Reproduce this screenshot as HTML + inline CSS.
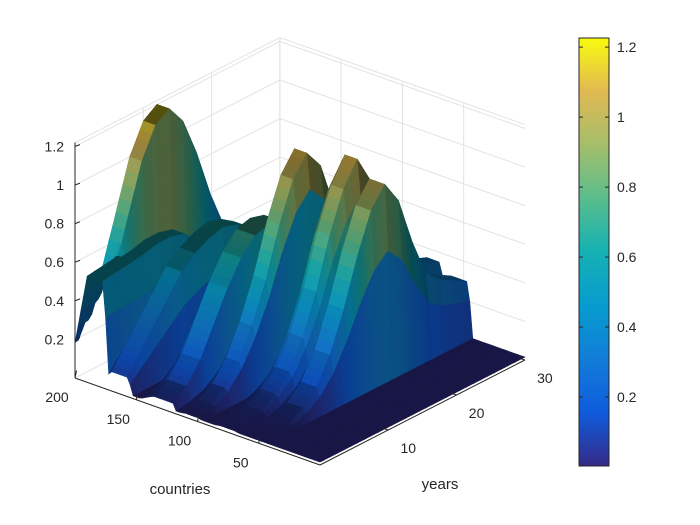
<!DOCTYPE html>
<html><head><meta charset="utf-8"><style>
html,body{margin:0;padding:0;background:#fff;}
svg{display:block;font-family:"Liberation Sans",sans-serif;}
</style></head><body>
<svg id="chart" width="700" height="525" viewBox="0 0 700 525">
<g id="grid"></g>
<g id="surf"></g>
<g id="axes"></g>
<g id="cbar"></g>
</svg>
<script>
// ---- data ----
const years = [0,2,4,6,8,10,12,14,16,18,20,22,24,26,28,30];
const ridgeCountries = [190,176,156,120,98,68,46];
const ridgeWidths = [10,14,14,16,12,14,14];
const ridgeA = [0.15,0.3,0.5,0.75,1.0,1.15,1.2,1.1,0.9,0.65,0.45,0.3,0.2,0.12,0.08,0.05];
const ridgeB = [0.55,0.56,0.57,0.58,0.6,0.6,0.58,0.5,0.4,0.3,0.2,0.15,0.1,0.08,0.05,0.04];
const ridgeC = [0.1,0.2,0.3,0.4,0.5,0.56,0.6,0.62,0.6,0.55,0.45,0.38,0.33,0.3,0.28,0.26];
const ridgeD = [0.05,0.1,0.2,0.35,0.5,0.62,0.7,0.72,0.7,0.6,0.5,0.42,0.36,0.32,0.3,0.28];
const ridgeE = [0.02,0.05,0.1,0.2,0.35,0.55,0.8,1.0,1.1,1.0,0.75,0.55,0.5,0.48,0.45,0.4];
const ridgeF = [0.02,0.03,0.05,0.1,0.18,0.32,0.52,0.78,0.98,1.1,0.95,0.7,0.5,0.42,0.38,0.35];
const ridgeG = [0.01,0.02,0.04,0.08,0.15,0.28,0.48,0.72,0.92,1.02,0.9,0.65,0.45,0.38,0.34,0.3];
const ridgeProfiles = [ridgeA,ridgeB,ridgeC,ridgeD,ridgeE,ridgeF,ridgeG];
const zTicks = [0.2,0.4,0.6,0.8,1,1.2];
const countryTicks = [50,100,150,200];
const yearTicks = [10,20,30];
const cbarTicks = [0.2,0.4,0.6,0.8,1,1.2];

const NS='http://www.w3.org/2000/svg';
function P(c,y,z){return [320-1.225*c+6.83*y, 465-0.435*c-3.5*y-193*z];}
function el(tag,attrs,parent){const e=document.createElementNS(NS,tag);for(const k in attrs)e.setAttribute(k,attrs[k]);parent.appendChild(e);return e;}
const ZMAX=1.22, CMIN=0.003, CMAX=1.226;
const stops=[[53,42,135],[15,92,221],[18,125,216],[7,156,207],[21,177,180],[89,189,140],[165,190,107],[225,185,82],[249,251,14]];
function parula(t){t=Math.max(0,Math.min(1,t))*(stops.length-1);const i=Math.min(stops.length-2,Math.floor(t)),f=t-i;return stops[i].map((v,k)=>v+(stops[i+1][k]-v)*f);}

// grid
const g=document.getElementById('grid');
function line(a,b,col,parent,name){const l=el('line',{x1:a[0],y1:a[1],x2:b[0],y2:b[1],stroke:col,'stroke-width':1},parent);return l;}
const gc='#e3e3e3';
zTicks.forEach(z=>{line(P(200,0,z),P(200,30,z),gc,g,'grid-line');line(P(200,30,z),P(0,30,z),gc,g,'grid-line');});
yearTicks.forEach(y=>{line(P(200,y,0),P(200,y,ZMAX),gc,g,'grid-line');line(P(200,y,0),P(0,y,0),gc,g,'grid-line');});
countryTicks.forEach(c=>{line(P(c,30,0),P(c,30,ZMAX),gc,g,'grid-line');line(P(c,0,0),P(c,30,0),gc,g,'grid-line');});
line(P(200,30,0),P(200,30,ZMAX),gc,g,'grid-line');
line(P(200,0,ZMAX),P(200,30,ZMAX),gc,g,'grid-line');
line(P(200,30,ZMAX),P(0,30,ZMAX),gc,g,'grid-line');

// surface
function profileAt(p,y){const i=Math.min(years.length-2,Math.floor(y/2));const f=(y-years[i])/(years[i+1]-years[i]);return p[i]+(p[i+1]-p[i])*f;}
function Z(c,y){let z=0.015;for(let r=0;r<ridgeProfiles.length;r++){const c0=ridgeCountries[r],w=ridgeWidths[r];let gg;if(c>=c0&&c<=c0+w)gg=1;else if(c<c0)gg=Math.max(0,1-(c0-c)/3);else gg=Math.max(0,1-(c-c0-w)/15);z=Math.max(z,profileAt(ridgeProfiles[r],y)*gg);}return z;}
const cs=[],ys=[];for(let c=0;c<=200;c+=2.5)cs.push(c);for(let y=0;y<=30;y+=0.5)ys.push(y);
const quads=[];
let L=[-0.3,-1,-0.5];const ln=Math.hypot(...L);L=L.map(v=>v/ln);
for(let i=0;i<cs.length-1;i++)for(let j=0;j<ys.length-1;j++){
 const c0=cs[i],c1=cs[i+1],y0=ys[j],y1=ys[j+1];
 const z00=Z(c0,y0),z10=Z(c1,y0),z01=Z(c0,y1),z11=Z(c1,y1);
 const zm=(z00+z10+z01+z11)/4;
 const dzdc=((z10+z11)-(z00+z01))/2/(c1-c0), dzdy=((z01+z11)-(z00+z10))/2/(y1-y0);
 let n=[-dzdc*193/1.3,-dzdy*193/7.7,1];const nn=Math.hypot(...n);n=n.map(v=>v/nn);
 const d=Math.max(0,n[0]*L[0]+n[1]*L[1]+n[2]*L[2]);
 const base=parula((zm-CMIN)/(CMAX-CMIN));
 const amb=0.5-0.22*Math.min(1,zm/1.2);
 const k=amb+0.7*d, spec=Math.pow(d,8)*120;
 const col=base.map(v=>Math.round(Math.min(255,v*k+spec)));
 const pts=[P(c0,y0,z00),P(c1,y0,z10),P(c1,y1,z11),P(c0,y1,z01)];
 const depth=465-0.435*(c0+c1)/2-3.5*(y0+y1)/2;
 quads.push({pts,col,depth});
}
quads.sort((a,b)=>a.depth-b.depth);
const s=document.getElementById('surf');
quads.forEach(q=>{const c='rgb('+q.col.join(',')+')';const p=el('polygon',{points:q.pts.map(p=>p[0].toFixed(1)+','+p[1].toFixed(1)).join(' '),fill:c,stroke:c,'stroke-width':0.6},s);

});

// axes
const a=document.getElementById('axes');const ac='#262626';
line(P(200,0,0),P(200,0,ZMAX),ac,a,'z-axis-line');
line(P(200,0,0),P(0,0,0),ac,a,'countries-axis-line');
line(P(0,0,0),P(0,30,0),ac,a,'years-axis-line');
function text(x,y,str,anchor,name,parent,size){const t=el('text',{x:x,y:y,'text-anchor':anchor,'font-size':size||14,fill:'#262626'},parent);t.textContent=str;return t;}
zTicks.forEach(z=>{const p=P(200,0,z);line(p,[p[0]+5,p[1]-1.8],ac,a,'z-tick');text(p[0]-11,p[1]+5,String(z),'end','z-tick-label',a);});
countryTicks.forEach(c=>{const p=P(c,0,0);line(p,[p[0]+1.5,p[1]-7.5],ac,a,'country-tick');text(p[0]-18,p[1]+24,String(c),'middle','country-tick-label',a);});
yearTicks.forEach(y=>{const p=P(0,y,0);line(p,[p[0]-6,p[1]-2],ac,a,'year-tick');text(p[0]+20,p[1]+23,String(y),'middle','year-tick-label',a);});
text(180,494,'countries','middle','countries-axis-title',a,15);
text(440,489,'years','middle','years-axis-title',a,15);

// colorbar
const cb=document.getElementById('cbar');
const defs=el('defs',{},cb);const gr=el('linearGradient',{id:'pg',x1:0,y1:1,x2:0,y2:0},defs);
stops.forEach((st,i)=>el('stop',{offset:i/(stops.length-1),'stop-color':'rgb('+st.join(',')+')'},gr));
const CB={x:579,y0:38,y1:466,w:30};
function cbY(v){return CB.y1-(v-CMIN)/(CMAX-CMIN)*(CB.y1-CB.y0);}
const r=el('rect',{x:CB.x,y:CB.y0,width:CB.w,height:CB.y1-CB.y0,fill:'url(#pg)',stroke:ac,'stroke-width':1},cb);

cbarTicks.forEach(v=>{const y=cbY(v);line([CB.x,y],[CB.x+4,y],ac,cb,'colorbar-tick');line([CB.x+CB.w-4,y],[CB.x+CB.w,y],ac,cb,'colorbar-tick');text(CB.x+CB.w+8,y+5,String(v),'start','colorbar-tick-label',cb);});
</script>
</body></html>
